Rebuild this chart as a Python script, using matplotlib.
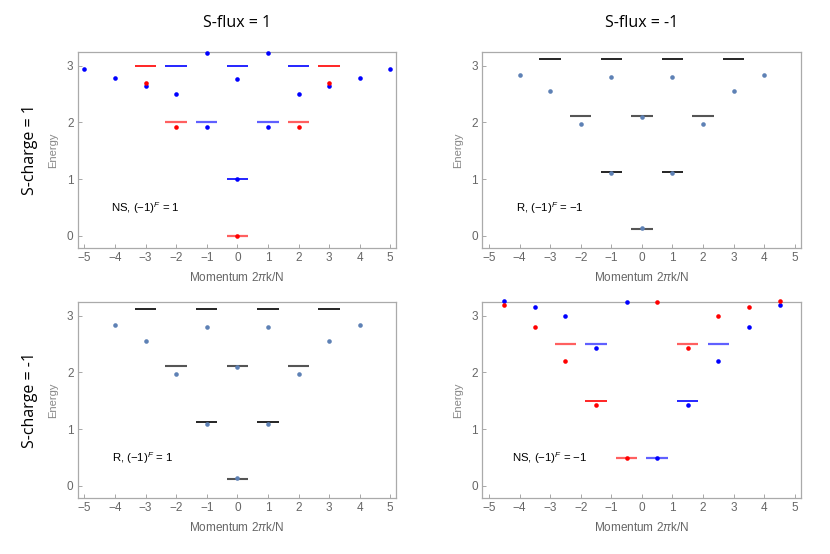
import numpy as np
import matplotlib.pyplot as plt

plt.rcParams['font.family'] = ['Liberation Sans', 'DejaVu Sans']
plt.rcParams['mathtext.fontset'] = 'custom'
plt.rcParams['mathtext.rm'] = 'Liberation Sans'
plt.rcParams['mathtext.it'] = 'Liberation Sans:italic'

# --- data ---
# S-flux = 1, S-charge = 1 (NS, (-1)^F = 1)
ns1_blue_k = [-5, -4, -3, -2, -1, -1, 0, 0, 1, 1, 2, 3, 4, 5]
ns1_blue_E = [2.94, 2.78, 2.65, 2.505, 3.22, 1.92, 2.76, 1.0, 3.22, 1.92, 2.505, 2.65, 2.78, 2.94]
ns1_red_k = [-3, -2, 0, 2, 3]
ns1_red_E = [2.69, 1.92, 0.0, 1.92, 2.69]
ns1_lvl_red_k = [-3, 3]
ns1_lvl_red_E = [3, 3]
ns1_lvl_redl_k = [-2, 2, 0]
ns1_lvl_redl_E = [2, 2, 0]
ns1_lvl_blue_k = [-2, 0, 2, 0]
ns1_lvl_blue_E = [3, 3, 3, 1]
ns1_lvl_bluel_k = [-1, 1]
ns1_lvl_bluel_E = [2, 2]

# R sector (S-flux = -1 / S-charge = 1 and S-flux = 1 / S-charge = -1)
r_k = [-4, -3, -2, -1, -1, 0, 0, 1, 1, 2, 3, 4]
r_E = [2.84, 2.56, 1.97, 2.80, 1.10, 2.09, 0.13, 2.80, 1.10, 1.97, 2.56, 2.84]
r_lvl_black_k = [-3, -1, 1, 3, -1, 1]
r_lvl_black_E = [3.12, 3.12, 3.12, 3.12, 1.12, 1.12]
r_lvl_gray_k = [-2, 0, 2, 0]
r_lvl_gray_E = [2.12, 2.12, 2.12, 0.125]

# S-flux = -1, S-charge = -1 (NS, (-1)^F = -1)
ns2_k = [-4.5, -3.5, -2.5, -1.5, -0.5, 0.5, 1.5, 2.5, 3.5, 4.5]
ns2_blue_E = [3.265, 3.16, 3.005, 2.43, 3.24, 0.49, 1.43, 2.21, 2.80, 3.19]
ns2_red_E = [3.19, 2.80, 2.21, 1.43, 0.49, 3.24, 2.43, 3.005, 3.16, 3.265]
ns2_lvl_red_k = [-1.5]
ns2_lvl_red_E = [1.5]
ns2_lvl_redl_k = [-2.5, 1.5, -0.5]
ns2_lvl_redl_E = [2.5, 2.5, 0.5]
ns2_lvl_blue_k = [1.5]
ns2_lvl_blue_E = [1.5]
ns2_lvl_bluel_k = [-1.5, 2.5, 0.5]
ns2_lvl_bluel_E = [2.5, 2.5, 0.5]

col_titles = ['S-flux = 1', 'S-flux = -1']
row_titles = ['S-charge = 1', 'S-charge = -1']
labels = [r'NS, $(-1)^F$ = 1', r'R, $(-1)^F$ = $-$1',
          r'R, $(-1)^F$ = 1', r'NS, $(-1)^F$ = $-$1']

RED, BLUE = '#ff0000', '#0000ff'
REDL, BLUEL = '#ff6060', '#6060ff'
STEEL = '#5e81b5'
HW = 0.35


def levels(ax, k, E, color, lw=1.2):
    k = np.asarray(k, dtype=float)
    ax.hlines(E, k - HW, k + HW, colors=color, lw=lw, zorder=2)


def dots(ax, k, E, color):
    ax.plot(k, E, 'o', ms=3.3, color=color, mec='none', zorder=3, clip_on=False)


fig = plt.figure(figsize=(8.3, 5.54), dpi=100)
lefts = [0.0936, 0.581]
bottoms = [0.5518, 0.1005]
axes = []
for r in range(2):
    for c in range(2):
        ax = fig.add_axes([lefts[c], bottoms[r], 0.384, 0.355])
        axes.append(ax)

ax = axes[0]
levels(ax, ns1_lvl_red_k, ns1_lvl_red_E, RED)
levels(ax, ns1_lvl_redl_k, ns1_lvl_redl_E, REDL, 1.6)
levels(ax, ns1_lvl_blue_k, ns1_lvl_blue_E, BLUE)
levels(ax, ns1_lvl_bluel_k, ns1_lvl_bluel_E, BLUEL, 1.6)
dots(ax, ns1_blue_k, ns1_blue_E, BLUE)
dots(ax, ns1_red_k, ns1_red_E, RED)

for ax in (axes[1], axes[2]):
    levels(ax, r_lvl_black_k, r_lvl_black_E, 'black')
    levels(ax, r_lvl_gray_k, r_lvl_gray_E, '#555555', 1.5)
    dots(ax, r_k, r_E, STEEL)

ax = axes[3]
levels(ax, ns2_lvl_red_k, ns2_lvl_red_E, RED)
levels(ax, ns2_lvl_redl_k, ns2_lvl_redl_E, REDL, 1.6)
levels(ax, ns2_lvl_blue_k, ns2_lvl_blue_E, BLUE)
levels(ax, ns2_lvl_bluel_k, ns2_lvl_bluel_E, BLUEL, 1.6)
dots(ax, ns2_k, ns2_blue_E, BLUE)
dots(ax, ns2_k, ns2_red_E, RED)

label_x = [-4.13, -4.1, -4.1, -4.24]
for i, ax in enumerate(axes):
    ax.set_xlim(-5.22, 5.2)
    ax.set_ylim(-0.22, 3.25)
    ax.set_xticks(range(-5, 6))
    ax.set_xticklabels([str(v).replace('-', '\u2212') for v in range(-5, 6)])
    ax.set_yticks(range(0, 4))
    ax.tick_params(direction='in', length=3, width=0.6, color='#999999',
                   labelcolor='#666666', labelsize=8.5, pad=3)
    for s in ax.spines.values():
        s.set_color('#aaaaaa')
        s.set_linewidth(0.9)
    ax.set_xlabel('Momentum 2$\\pi$k/N', color='#666666', fontsize=8.5, labelpad=5)
    ax.set_ylabel('Energy', color='#888888', fontsize=8, labelpad=6)
    ax.text(label_x[i], 0.49, labels[i], fontsize=8.2, va='center', ha='left')

for c in range(2):
    fig.text(lefts[c] + 0.192, 0.958, col_titles[c], ha='center', va='center',
             fontsize=11.5, family=['Open Sans', 'DejaVu Sans'])
for r in range(2):
    fig.text(0.036, bottoms[r] + 0.1775, row_titles[r], ha='center', va='center',
             rotation=90, fontsize=11.5, family=['Open Sans', 'DejaVu Sans'])

fig.savefig('out.png', dpi=100)
